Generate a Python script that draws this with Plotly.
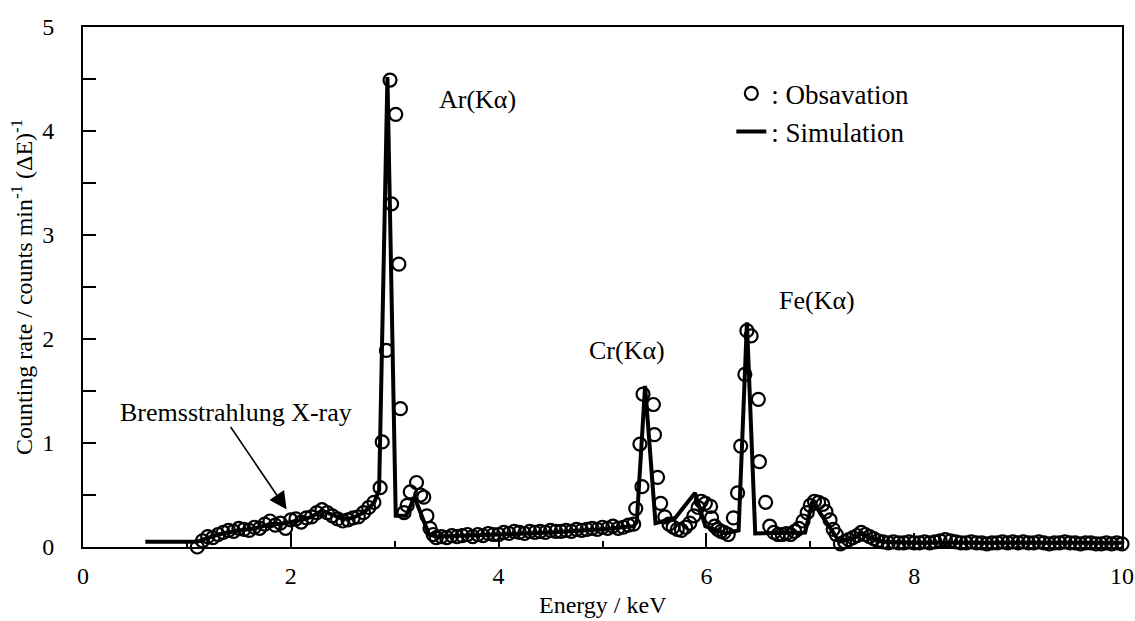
import plotly.graph_objects as go

# Observation (circles)
obs_e = [1.10, 1.15, 1.20, 1.25, 1.30, 1.35, 1.40, 1.45, 1.50, 1.55, 1.60, 1.65, 1.70, 1.75, 1.80, 1.85, 1.90, 1.95, 2.00, 2.05, 2.10, 2.15, 2.20, 2.25, 2.30, 2.35, 2.40, 2.45, 2.50, 2.55, 2.60, 2.65, 2.70, 2.75, 2.80,
         2.86, 2.88, 2.92, 2.955, 2.97, 3.01, 3.04, 3.055,
         3.09, 3.12, 3.15, 3.21, 3.25, 3.28, 3.31, 3.34, 3.37,
         3.40, 3.45, 3.50, 3.55, 3.60, 3.65, 3.70, 3.75, 3.80, 3.85, 3.90, 3.95, 4.00, 4.05, 4.10, 4.15, 4.20, 4.25, 4.30, 4.35, 4.40, 4.45, 4.50, 4.55, 4.60, 4.65, 4.70, 4.75, 4.80, 4.85, 4.90, 4.95, 5.00, 5.05, 5.10, 5.15, 5.20, 5.25, 5.30,
         5.32, 5.36, 5.38, 5.39, 5.49, 5.50, 5.53, 5.56, 5.60,
         5.64, 5.68, 5.72, 5.76, 5.80, 5.84, 5.88, 5.92, 5.95, 5.99, 6.04, 6.05, 6.08, 6.11, 6.14, 6.17, 6.21, 6.26,
         6.30, 6.33, 6.37, 6.39, 6.43, 6.50, 6.51, 6.57,
         6.61, 6.65, 6.69, 6.73, 6.77, 6.81, 6.85, 6.89, 6.93, 6.97, 7.00, 7.04, 7.08, 7.12, 7.15, 7.19, 7.22, 7.25, 7.29, 7.33, 7.37, 7.41, 7.45, 7.49, 7.53, 7.57, 7.61, 7.65,
         7.70, 7.75, 7.80, 7.85, 7.90, 7.95, 8.00, 8.05, 8.10, 8.15, 8.20, 8.25, 8.30, 8.35, 8.40, 8.45, 8.50, 8.55, 8.60, 8.65, 8.70, 8.75, 8.80, 8.85, 8.90, 8.95, 9.00, 9.05, 9.10, 9.15, 9.20, 9.25, 9.30, 9.35, 9.40, 9.45, 9.50, 9.55, 9.60, 9.65, 9.70, 9.75, 9.80, 9.85, 9.90, 9.95, 10.00]
obs_rate = [0.00, 0.06, 0.10, 0.09, 0.12, 0.14, 0.16, 0.15, 0.18, 0.17, 0.16, 0.19, 0.18, 0.22, 0.25, 0.21, 0.23, 0.18, 0.26, 0.27, 0.24, 0.28, 0.29, 0.33, 0.36, 0.33, 0.30, 0.27, 0.25, 0.26, 0.28, 0.29, 0.33, 0.38, 0.43,
            0.57, 1.01, 1.89, 4.49, 3.30, 4.16, 2.72, 1.33,
            0.33, 0.40, 0.53, 0.62, 0.50, 0.48, 0.30, 0.18, 0.12,
            0.09, 0.10, 0.09, 0.11, 0.10, 0.11, 0.12, 0.10, 0.12, 0.11, 0.13, 0.12, 0.12, 0.14, 0.13, 0.15, 0.14, 0.13, 0.15, 0.14, 0.15, 0.14, 0.16, 0.15, 0.15, 0.16, 0.15, 0.17, 0.16, 0.17, 0.18, 0.17, 0.19, 0.18, 0.20, 0.18, 0.19, 0.21, 0.22,
            0.37, 0.99, 0.58, 1.47, 1.37, 1.08, 0.67, 0.42, 0.29,
            0.22, 0.19, 0.17, 0.16, 0.19, 0.23, 0.30, 0.38, 0.44, 0.42, 0.39, 0.28, 0.20, 0.17, 0.15, 0.14, 0.12, 0.28,
            0.52, 0.97, 1.66, 2.08, 2.03, 1.42, 0.82, 0.43,
            0.20, 0.14, 0.12, 0.12, 0.13, 0.12, 0.15, 0.18, 0.25, 0.33, 0.40, 0.44, 0.43, 0.41, 0.34, 0.26, 0.17, 0.12, 0.03, 0.05, 0.07, 0.09, 0.11, 0.14, 0.12, 0.10, 0.08, 0.06,
            0.05, 0.04, 0.05, 0.04, 0.04, 0.05, 0.04, 0.04, 0.05, 0.04, 0.05, 0.06, 0.07, 0.06, 0.05, 0.04, 0.04, 0.05, 0.04, 0.04, 0.03, 0.04, 0.04, 0.05, 0.04, 0.05, 0.04, 0.05, 0.04, 0.04, 0.05, 0.04, 0.03, 0.04, 0.04, 0.05, 0.04, 0.04, 0.03, 0.04, 0.04, 0.03, 0.03, 0.04, 0.03, 0.04, 0.03]

# Simulation (line)
sim_e = [0.60, 1.10, 1.15, 1.20, 1.30, 1.40, 1.50, 1.60, 1.70, 1.80, 1.90, 2.00, 2.10, 2.20, 2.30, 2.40, 2.50, 2.60, 2.70, 2.80, 2.85,
         2.93, 3.01, 3.11, 3.19, 3.33, 3.40, 4.00, 4.50, 5.00, 5.30, 5.33,
         5.41, 5.51, 5.70, 5.89, 5.99, 6.18, 6.31,
         6.39, 6.47, 6.95, 7.02, 7.28, 7.40, 7.50, 7.60, 7.70, 8.00, 9.00, 10.00]
sim_rate = [0.05, 0.05, 0.07, 0.09, 0.12, 0.14, 0.16, 0.17, 0.19, 0.22, 0.22, 0.24, 0.26, 0.29, 0.35, 0.31, 0.27, 0.28, 0.33, 0.42, 0.55,
            4.52, 0.30, 0.30, 0.48, 0.12, 0.10, 0.12, 0.14, 0.17, 0.20, 0.24,
            1.55, 0.23, 0.28, 0.52, 0.20, 0.13, 0.16,
            2.16, 0.13, 0.14, 0.44, 0.05, 0.08, 0.13, 0.08, 0.05, 0.04, 0.04, 0.04]

FONT = "Liberation Serif"

fig = go.Figure()
fig.add_trace(go.Scatter(
    x=sim_e, y=sim_rate, mode="lines", name=": Simulation",
    line=dict(color="black", width=4), legendgroup="b", legendrank=2, cliponaxis=False))
fig.add_trace(go.Scatter(
    x=obs_e, y=obs_rate, mode="markers", name=": Obsavation",
    marker=dict(symbol="circle-open", size=13, color="black", line=dict(width=2.2, color="black")),
    legendgroup="a", legendrank=1, cliponaxis=False))

annotations = [
    dict(x=3.8, y=4.30, xref="x", yref="y", text="Ar(Kα)", showarrow=False, font=dict(size=26)),
    dict(x=5.24, y=1.89, xref="x", yref="y", text="Cr(Kα)", showarrow=False, font=dict(size=26)),
    dict(x=7.06, y=2.375, xref="x", yref="y", text="Fe(Kα)", showarrow=False, font=dict(size=26)),
    dict(x=1.47, y=1.29, xref="x", yref="y", text="Bremsstrahlung X-ray", showarrow=False, font=dict(size=26)),
    dict(x=1.96, y=0.36, xref="x", yref="y", text="", showarrow=True, ax=-57, ay=-84,
         arrowhead=2, arrowsize=2.2, arrowwidth=1.6, arrowcolor="black"),
    dict(x=0.5, y=-0.112, xref="paper", yref="paper", text="Energy / keV", showarrow=False,
         xanchor="center", yanchor="middle", font=dict(size=24)),
    dict(x=-0.0587, y=0.5, xref="paper", yref="paper", text="Counting rate / counts min<sup>-1</sup> (ΔE)<sup>-1</sup>",
         showarrow=False, textangle=-90, xanchor="center", yanchor="middle", font=dict(size=24)),
]

fig.update_layout(
    template="none",
    width=1135, height=621,
    margin=dict(l=83, r=13, t=27, b=74, autoexpand=False),
    paper_bgcolor="white", plot_bgcolor="white",
    font=dict(family=FONT, color="black", size=24),
    showlegend=True,
    legend=dict(x=0.624, y=0.835, xanchor="left", yanchor="middle", bgcolor="rgba(0,0,0,0)",
                traceorder="grouped", tracegroupgap=0, font=dict(size=27), itemwidth=30),
    annotations=annotations,
)
fig.update_xaxes(range=[0, 10], tickvals=[0, 2, 4, 6, 8, 10], ticks="inside", ticklen=14, tickwidth=2,
                 showline=True, linewidth=2, linecolor="black", mirror=True, showgrid=False, zeroline=False,
                 automargin=False, ticklabeloverflow="allow",
                 minor=dict(tickvals=[1, 3, 5, 7, 9], ticks="inside", ticklen=6, tickwidth=2, tickcolor="black"),
                 tickcolor="black", ticklabelstandoff=6, tickfont=dict(size=24))
fig.update_yaxes(range=[0, 5], tickvals=[0, 1, 2, 3, 4, 5], ticks="inside", ticklen=13, tickwidth=2,
                 showline=True, linewidth=2, linecolor="black", mirror=True, showgrid=False, zeroline=False,
                 automargin=False, ticklabeloverflow="allow",
                 minor=dict(tickvals=[0.5, 1.5, 2.5, 3.5, 4.5], ticks="inside", ticklen=13, tickwidth=2, tickcolor="black"),
                 tickcolor="black", ticklabelstandoff=22, tickfont=dict(size=24))

fig.write_html("out.html")
